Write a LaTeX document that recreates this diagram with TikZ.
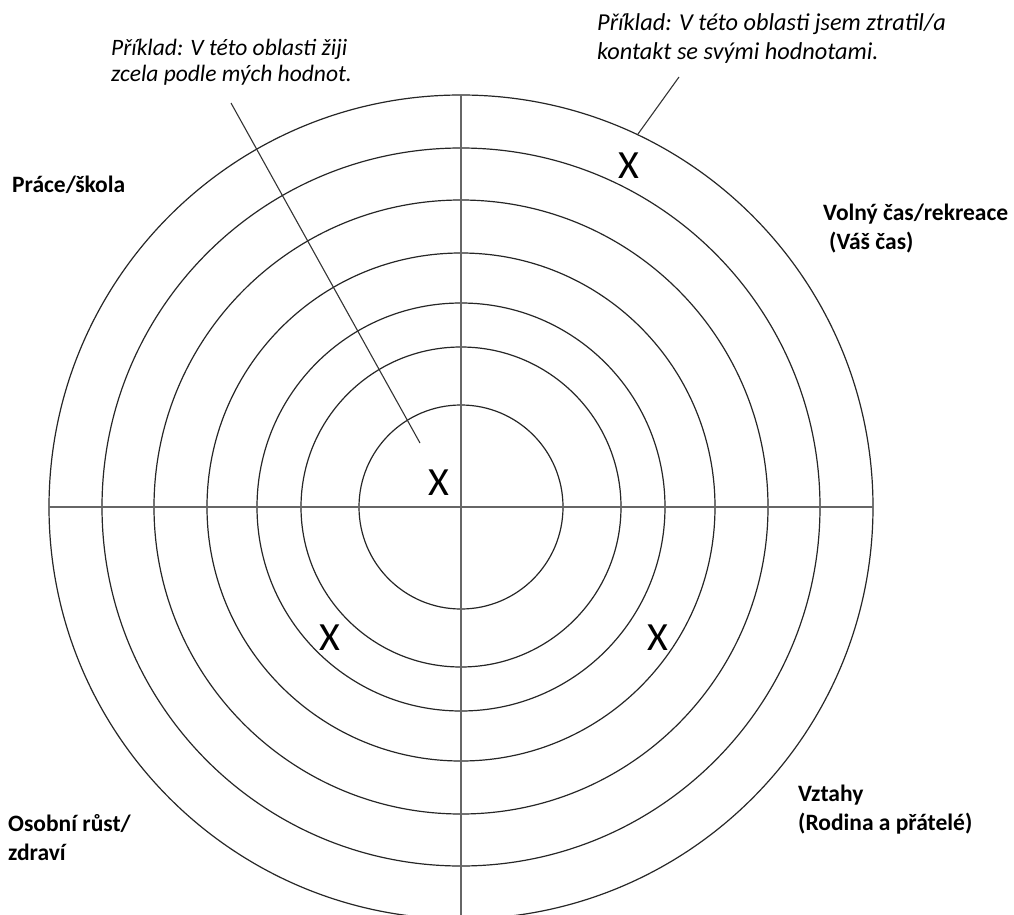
\documentclass[tikz,border=0pt]{standalone}
\usepackage{fontspec}
\setmainfont{Carlito}
\usepackage{tikz}

\tikzset{
    kruh/.style={line width=1.2pt, black!85},
    osa/.style={line width=1.8pt, black!60},
    voditko/.style={line width=1.1pt, black!80},
    oblast/.style={
        font=\bfseries\fontsize{23.5}{28.5}\selectfont,
        anchor=base west, align=left, inner sep=0pt},
    znacka/.style={
        font=\fontsize{40}{40}\selectfont, inner sep=0pt}
}

\begin{document}
\begin{tikzpicture}[x=1pt, y=-1pt]

\useasboundingbox (0,0) rectangle (1014,915);
\clip (0,0) rectangle (1014,915);

% ---------------- KRUHY ----------------

\coordinate (stred) at (461,507);

\draw[kruh]
    (stred) circle[radius=102]
    (stred) circle[radius=160]
    (stred) circle[radius=204]
    (stred) circle[radius=254]
    (stred) circle[radius=307]
    (stred) circle[radius=359]
    (stred) circle[radius=412];


% ---------------- OSY ----------------

\coordinate (vlevo) at (49,507);
\coordinate (vpravo) at (873,507);
\coordinate (nahore) at (461,95);
\coordinate (dole) at (461,925);

\draw[osa] (vlevo) -- (vpravo);
\draw[osa] (nahore) -- (dole);


% ---------------- OBLASTI ----------------

% base = účaří posledního řádku
\node[oblast] (prace) at (12,192) {Práce/škola};

\node[oblast] (volno) at (823,249)
    {Volný čas/rekreace\\\hspace*{6pt}(Váš čas)};

\node[oblast] (rust) at (8,860)
    {Osobní růst/\\zdraví};

\node[oblast] (vztahy) at (798,830)
    {Vztahy\\(Rodina a přátelé)};


% ---------------- PŘÍKLADY ----------------

\node[
    anchor=base west,
    align=left,
    inner sep=0pt,
    font=\itshape\fontsize{23.5}{26}\selectfont
] (zijih) at (111,82)
    {Příklad: V této oblasti žiji\\zcela podle mých hodnot.};

\node[
    anchor=base west,
    align=left,
    inner sep=0pt,
    font=\itshape\fontsize{24.3}{29}\selectfont
] (ztratil) at (597,60)
    {Příklad: V této oblasti jsem ztratil/a\\kontakt se svými hodnotami.};

\coordinate (zijihA) at (231,103);
\coordinate (zijihB) at (420,443);
\coordinate (ztratilA) at (679,77);
\coordinate (ztratilB) at (638,134);

\draw[voditko] (zijihA) -- (zijihB);
\draw[voditko] (ztratilA) -- (ztratilB);


% ---------------- ZNAČKY ----------------

\node[znacka] (x1) at (439,483) {X};
\node[znacka] (x2) at (629,166) {X};
\node[znacka] (x3) at (330,638) {X};
\node[znacka] (x4) at (658,638) {X};

\end{tikzpicture}
\end{document}
